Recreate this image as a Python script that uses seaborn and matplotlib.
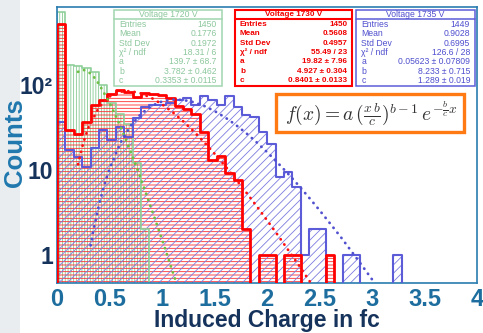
import numpy as np
import pandas as pd
import matplotlib
matplotlib.use("Agg")
import matplotlib.pyplot as plt
import seaborn as sns
from matplotlib.patches import Rectangle
from matplotlib.lines import Line2D
from matplotlib.ticker import FixedLocator, FixedFormatter, MultipleLocator, LogLocator, NullFormatter

# ---------------- data ----------------
counts_1720 = [719, 170, 165, 158, 141, 99, 60, 45, 34, 12, 2, 0, 0, 0, 0, 0, 0,
               0, 0, 0, 0, 0, 0, 0, 0, 0, 0, 0, 0, 0, 0, 0, 0, 0, 0, 0, 0, 0, 0,
               0, 0, 0, 0, 0, 0, 0, 0, 0, 0, 0]
counts_1730 = [510, 29, 26.5, 36.5, 57.5, 65, 78, 86, 82, 72, 80, 78, 75, 70, 56, 52,
               45, 28, 13, 14.4, 9, 7.5, 2, 0, 1, 1, 0, 1, 1, 0, 0, 0, 1, 0, 0, 0, 0,
               0, 0, 0, 0, 0, 0, 0, 0, 0, 0, 0, 0, 0]
counts_1735 = [36, 17, 14.2, 10.8, 17.7, 29, 22, 32, 24, 40, 55, 57.5, 57, 60, 66, 70,
               57, 73, 66, 57, 73, 55, 43.7, 42, 28, 20, 8.2, 9.4, 6.3, 1, 2, 2, 0, 0,
               1, 1, 0, 0, 0, 0, 1, 0, 0, 0, 0, 0, 0, 0, 0, 0]

fit_1720_x = [0.2, 0.25, 0.3, 0.35, 0.4, 0.5, 0.6, 0.7, 0.8, 0.9, 1.0, 1.1, 1.15]
fit_1720_y = [141, 149, 141, 123, 101, 61, 33, 16.3, 7.7, 3.4, 1.5, 0.63, 0.41]
fit_1730_x = [0.2, 0.25, 0.3, 0.4, 0.5, 0.6, 0.7, 0.8, 0.9, 1.0, 1.1, 1.2, 1.3, 1.4,
              1.5, 1.6, 1.7, 1.8, 1.9, 2.0, 2.1, 2.2, 2.3, 2.4, 2.45]
fit_1730_y = [11.5, 20.6, 31.4, 54.0, 72.2, 82.2, 83.7, 78.6, 69.5, 58.5, 47.3, 37.0,
              28.2, 21.0, 15.3, 11.0, 7.75, 5.39, 3.71, 2.52, 1.70, 1.13, 0.753, 0.494, 0.40]
fit_1735_x = [0.32, 0.35, 0.4, 0.45, 0.5, 0.6, 0.7, 0.8, 0.9, 1.0, 1.1, 1.2, 1.3, 1.4,
              1.5, 1.6, 1.7, 1.8, 1.9, 2.0, 2.1, 2.2, 2.3, 2.4, 2.5, 2.6, 2.7, 2.8,
              2.9, 3.0, 3.05]
fit_1735_y = [1.28, 2.02, 3.86, 6.58, 10.2, 20.2, 32.6, 45.2, 56.0, 63.3, 66.5, 65.9,
              62.0, 56.0, 48.7, 41.0, 33.6, 26.8, 20.9, 16.0, 12.0, 8.89, 6.48, 4.65,
              3.30, 2.31, 1.61, 1.10, 0.75, 0.506, 0.41]

stat_labels = ["Entries", "Mean", "Std Dev", "χ² / ndf", "a", "b", "c"]
stats_1720 = ["1450", "0.1776", "0.1972", "18.31 / 6", "139.7 ± 68.7", "3.782 ± 0.462",
              "0.3353 ± 0.0115"]
stats_1730 = ["1450", "0.5608", "0.4957", "55.49 / 23", "19.82 ± 7.96", "4.927 ± 0.304",
              "0.8401 ± 0.0133"]
stats_1735 = ["1449", "0.9028", "0.6995", "126.6 / 28", "0.05623 ± 0.07809",
              "8.233 ± 0.715", "1.289 ± 0.019"]
titles = ["Voltage 1720 V", "Voltage 1730 V", "Voltage 1735 V"]

x_ticks = [0, 0.5, 1, 1.5, 2, 2.5, 3, 3.5, 4]
x_tick_labels = ["0", "0.5", "1", "1.5", "2", "2.5", "3", "3.5", "4"]
y_ticks = [1, 10, 100]
y_tick_labels = ["1", "10", "10²"]

# ---------------- style ----------------
sns.set_theme(style="white")
plt.rcParams['font.family'] = ['Liberation Sans', 'DejaVu Sans']
plt.rcParams['hatch.linewidth'] = 0.6

W, H = 483, 333
fig = plt.figure(figsize=(W / 100, H / 100), dpi=100)
fig.patch.set_facecolor("white")
# light grey strip on the far left (slide background)
fig.add_artist(Rectangle((0, 0), 20 / W, 1, transform=fig.transFigure,
                         facecolor="#eaedf0", edgecolor="none", zorder=0))
ax = fig.add_axes([57 / W, 1 - 282.7 / H, (477.3 - 57) / W, (282.7 - 6.7) / H])

bin_edges = np.linspace(0, 4, 51).tolist()
centers = [e + 0.04 for e in bin_edges[:-1]]

GREEN_LINE = "#8fd09b"
GREEN_HATCH = "#86c992"
RED_LINE = "#ff0000"
RED_HATCH = "#ff2a2a"
BLUE_LINE = "#5c5cd8"
BLUE_HATCH = "#7c7ce0"

series = [
    (counts_1720, GREEN_LINE, GREEN_HATCH, "||||||", 1.2, 2),
    (counts_1730, RED_LINE, RED_HATCH, "-----", 2.0, 4),
    (counts_1735, BLUE_LINE, BLUE_HATCH, "////", 1.5, 3),
]

# hatches
for cnt, lc, hc, hatch, lw, z in series:
    df = pd.DataFrame({"x": centers, "w": cnt})
    sns.histplot(data=df, x="x", weights="w", bins=bin_edges, element="step", fill=True,
                 color=hc, facecolor="none", edgecolor=hc, hatch=hatch, linewidth=0,
                 ax=ax, zorder=1)
# outlines
for cnt, lc, hc, hatch, lw, z in series:
    df = pd.DataFrame({"x": centers, "w": cnt})
    sns.histplot(data=df, x="x", weights="w", bins=bin_edges, element="step", fill=True,
                 color=lc, facecolor="none", edgecolor=lc, linewidth=lw, ax=ax, zorder=z)

# fits (dotted)
for fx, fy, col in [(fit_1720_x, fit_1720_y, "#6fbf45"),
                    (fit_1730_x, fit_1730_y, "#ff1010"),
                    (fit_1735_x, fit_1735_y, "#5050d0")]:
    sns.lineplot(x=fx, y=fy, ax=ax, color=col, linewidth=2.0,
                 linestyle=(0, (0.1, 2.2)), dash_capstyle="round", zorder=5)

ax.set_yscale("log")
ax.set_xlim(0, 4)
ax.set_ylim(0.466, 823)
ax.set_xlabel("")
ax.set_ylabel("")

FRAME = "#2a7cb0"
for s in ax.spines.values():
    s.set_color(FRAME)
    s.set_linewidth(1.2)

ax.xaxis.set_major_locator(FixedLocator(x_ticks))
ax.xaxis.set_major_formatter(FixedFormatter(x_tick_labels))
ax.xaxis.set_minor_locator(MultipleLocator(0.1))
ax.yaxis.set_major_locator(FixedLocator(y_ticks))
ax.yaxis.set_major_formatter(FixedFormatter(y_tick_labels))
ax.yaxis.set_minor_locator(LogLocator(base=10, subs=np.arange(2, 10)))
ax.yaxis.set_minor_formatter(NullFormatter())

ax.tick_params(axis="x", which="major", direction="in", length=5, width=0.8,
               color="#333333", labelsize=17, labelcolor="#1d6e9e", pad=4)
ax.tick_params(axis="x", which="minor", direction="in", length=2.8, width=0.7,
               color="#333333")
ax.tick_params(axis="y", which="major", direction="in", length=6, width=0.8,
               color="#333333", labelsize=16.5, labelcolor="#16335c", pad=3)
ax.tick_params(axis="y", which="minor", direction="in", length=3, width=0.7,
               color="#333333")
for lab in ax.get_xticklabels() + ax.get_yticklabels():
    lab.set_fontweight("bold")
ax.grid(False)

fig.text(267 / W, 1 - 321 / H, "Induced Charge in fc", ha="center", va="center",
         fontsize=16.5, fontweight="bold", color="#16335c")
fig.text(15 / W, 1 - 143 / H, "Counts", rotation=90, ha="center", va="center",
         fontsize=18.5, fontweight="bold", color="#1f78ae")


def stat_box(x0, x1, title, values, edge, tcolor, blw, weight, fs):
    y0, y1 = 10, 86
    fig.add_artist(Rectangle((x0 / W, 1 - y1 / H), (x1 - x0) / W, (y1 - y0) / H,
                             transform=fig.transFigure, facecolor="white",
                             edgecolor=edge, linewidth=blw, zorder=10))
    fig.add_artist(Line2D([x0 / W, x1 / W], [1 - 19.3 / H, 1 - 19.3 / H],
                          transform=fig.transFigure, color=edge, linewidth=blw,
                          zorder=11))
    fig.text((x0 + x1) / 2 / W, 1 - 14.5 / H, title, ha="center", va="center",
             fontsize=fs, color=tcolor, fontweight=weight, zorder=12)
    for i, (lab, val) in enumerate(zip(stat_labels, values)):
        yy = 24.5 + 9.33 * i
        fig.text((x0 + 5) / W, 1 - yy / H, lab, ha="left", va="center",
                 fontsize=fs, color=tcolor, fontweight=weight, zorder=12)
        fig.text((x1 - 5) / W, 1 - yy / H, val, ha="right", va="center",
                 fontsize=fs, color=tcolor, fontweight=weight, zorder=12)


stat_box(114, 221.7, titles[0], stats_1720, "#9fd6ad", "#8cc79c", 1.1, "normal", 6.2)
stat_box(235, 352.3, titles[1], stats_1730, "#ff0000", "#f00000", 1.5, "bold", 5.9)
stat_box(356.3, 475, titles[2], stats_1735, "#5c5cd8", "#4f4fcf", 1.1, "normal", 6.2)

# formula box
fig.add_artist(Rectangle((276 / W, 1 - 132 / H), (464.3 - 276) / W, (132 - 94.3) / H,
                         transform=fig.transFigure, facecolor="white",
                         edgecolor="#ff7a12", linewidth=2.4, zorder=10))
fig.text(371 / W, 1 - 113 / H, r"$f(x) = a\,(\frac{x\,b}{c})^{b-1}\,e^{-\frac{b}{c}x}$",
         ha="center", va="center", fontsize=14, color="#333333", math_fontfamily="cm",
         zorder=12)

fig.savefig("out.png", dpi=100)
